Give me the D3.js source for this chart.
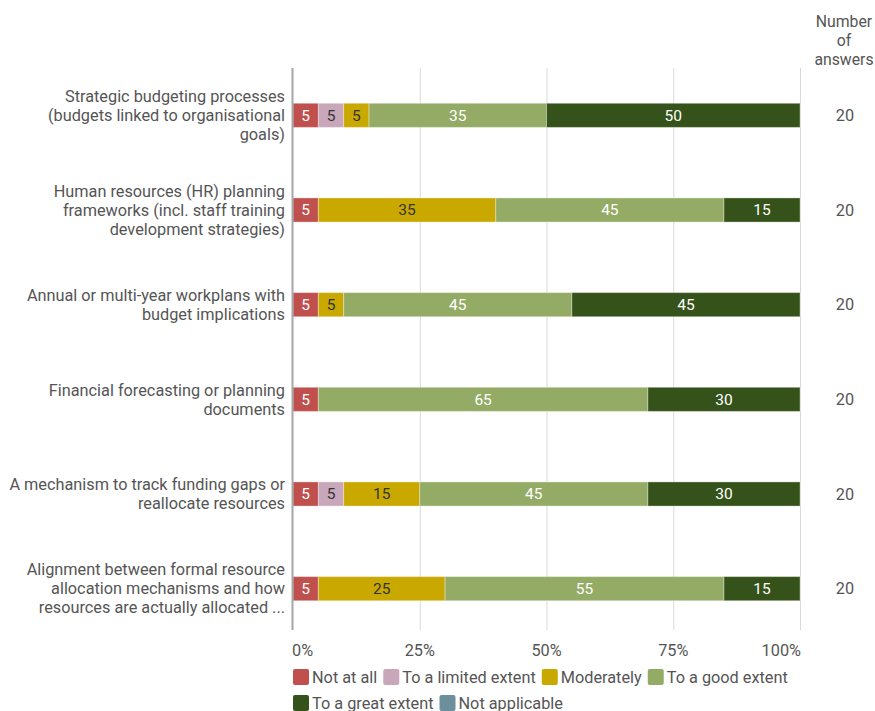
<!DOCTYPE html>
<html>
<head>
<meta charset="utf-8">
<script src="https://cdn.jsdelivr.net/npm/d3@7"></script>
<style>
  html, body { margin: 0; padding: 0; background: #fff; }
  svg { display: block; font-family: Roboto, "Noto Sans", sans-serif; }
</style>
</head>
<body>
<svg id="chart" width="875" height="711"></svg>
<script>
// Categories (one wrapped label per row)
const categories = [
  ["Strategic budgeting processes", "(budgets linked to organisational", "goals)"],
  ["Human resources (HR) planning", "frameworks (incl. staff training", "development strategies)"],
  ["Annual or multi-year workplans with", "budget implications"],
  ["Financial forecasting or planning", "documents"],
  ["A mechanism to track funding gaps or", "reallocate resources"],
  ["Alignment between formal resource", "allocation mechanisms and how", "resources are actually allocated ..."]
];

// Response options (series)
const seriesNames = ["Not at all", "To a limited extent", "Moderately", "To a good extent", "To a great extent", "Not applicable"];
const seriesColors = ["#c0504d", "#c9a7ba", "#c9a800", "#94ab66", "#35521a", "#6d8e9b"];
const labelColors = ["#ffffff", "#333333", "#333333", "#ffffff", "#ffffff", "#ffffff"];

// Percentages per series, one value per category
const notAtAll      = [5, 5, 5, 5, 5, 5];
const limited       = [5, 0, 0, 0, 5, 0];
const moderately    = [5, 35, 5, 0, 15, 25];
const goodExtent    = [35, 45, 45, 65, 45, 55];
const greatExtent   = [50, 15, 45, 30, 30, 15];
const notApplicable = [0, 0, 0, 0, 0, 0];

const answers = [20, 20, 20, 20, 20, 20];
const xTicks = [0, 25, 50, 75, 100];

const seriesValues = [notAtAll, limited, moderately, goodExtent, greatExtent, notApplicable];

const svg = d3.select("#chart");
const plotLeft = 293, plotRight = 800, plotTop = 68, plotBottom = 636;
const fs = 16.3;

const x = d3.scaleLinear().domain([0, 100]).range([plotLeft, plotRight]);
const y = d3.scaleBand().domain(d3.range(categories.length)).range([plotTop, plotBottom]).paddingInner(0.745).paddingOuter(0.3725);

// Gridlines
const grid = svg.append("g");
grid.selectAll("line").data(xTicks.slice(1)).join("line")
  .attr("x1", d => x(d) + 0.5).attr("x2", d => x(d) + 0.5)
  .attr("y1", plotTop).attr("y2", 630)
  .attr("stroke", "#d9d9d9").attr("stroke-width", 1);

// Stacked data
const rows = categories.map((c, i) => {
  let acc = 0;
  return seriesValues.map((s, k) => {
    const v = s[i];
    const seg = { row: i, k, v, x0: acc, x1: acc + v };
    acc += v;
    return seg;
  }).filter(d => d.v > 0);
});

const bars = svg.append("g");
rows.forEach(segs => {
  const g = bars.append("g");
  g.selectAll("rect").data(segs).join("rect")
    .attr("x", d => x(d.x0))
    .attr("y", d => y(d.row))
    .attr("width", d => x(d.x1) - x(d.x0))
    .attr("height", y.bandwidth())
    .attr("fill", d => seriesColors[d.k])
    .attr("stroke", "rgba(255,255,255,0.35)")
    .attr("stroke-width", 1);
  g.selectAll("text").data(segs).join("text")
    .attr("x", d => (x(d.x0) + x(d.x1)) / 2)
    .attr("y", d => y(d.row) + y.bandwidth() / 2)
    .attr("dy", "0.35em")
    .attr("text-anchor", "middle")
    .attr("font-size", 15.5)
    .attr("fill", d => labelColors[d.k])
    .text(d => d.v);
});

// Zero axis line
svg.append("line")
  .attr("x1", plotLeft - 0.5).attr("x2", plotLeft - 0.5)
  .attr("y1", plotTop).attr("y2", 630)
  .attr("stroke", "#a6a6a6").attr("stroke-width", 2);

// X tick labels (end labels kept inside the plot width)
svg.append("g").selectAll("text").data(xTicks).join("text")
  .attr("x", d => d === 0 ? plotLeft - 1 : d === 100 ? plotRight + 1 : x(d))
  .attr("y", 656)
  .attr("text-anchor", d => d === 0 ? "start" : d === 100 ? "end" : "middle")
  .attr("font-size", fs)
  .attr("fill", "#555")
  .text(d => d + "%");

// Category labels
const catG = svg.append("g");
categories.forEach((lines, i) => {
  const cy = y(i) + y.bandwidth() / 2;
  const lh = 19;
  const t = catG.append("text")
    .attr("text-anchor", "end")
    .attr("font-size", fs)
    .attr("fill", "#555");
  lines.forEach((ln, j) => {
    t.append("tspan")
      .attr("x", 285)
      .attr("y", cy + (j - (lines.length - 1) / 2) * lh)
      .attr("dy", "0.35em")
      .text(ln);
  });
});

// Number of answers column
const hdr = svg.append("text").attr("text-anchor", "middle").attr("font-size", 15.8).attr("fill", "#555");
["Number", "of", "answers"].forEach((s, j) => {
  hdr.append("tspan").attr("x", 844).attr("y", 21 + j * 19).attr("dy", "0.35em").text(s);
});
svg.append("g").selectAll("text").data(answers).join("text")
  .attr("x", 845)
  .attr("y", (d, i) => y(i) + y.bandwidth() / 2)
  .attr("dy", "0.35em")
  .attr("text-anchor", "middle")
  .attr("font-size", fs)
  .attr("fill", "#555")
  .text(d => d);

// Legend
const legendRows = [[0, 1, 2, 3], [4, 5]];
const leg = svg.append("g");
legendRows.forEach((items, r) => {
  let cx = plotLeft;
  const ly = 677 + r * 26;
  items.forEach(k => {
    leg.append("rect")
      .attr("x", cx).attr("y", ly - 8)
      .attr("width", 16).attr("height", 16)
      .attr("rx", 2)
      .attr("fill", seriesColors[k]);
    const t = leg.append("text")
      .attr("x", cx + 19).attr("y", ly)
      .attr("dy", "0.35em")
      .attr("font-size", fs)
      .attr("fill", "#555")
      .text(seriesNames[k]);
    cx += 19 + t.node().getComputedTextLength() + 6;
  });
});
</script>
</body>
</html>
